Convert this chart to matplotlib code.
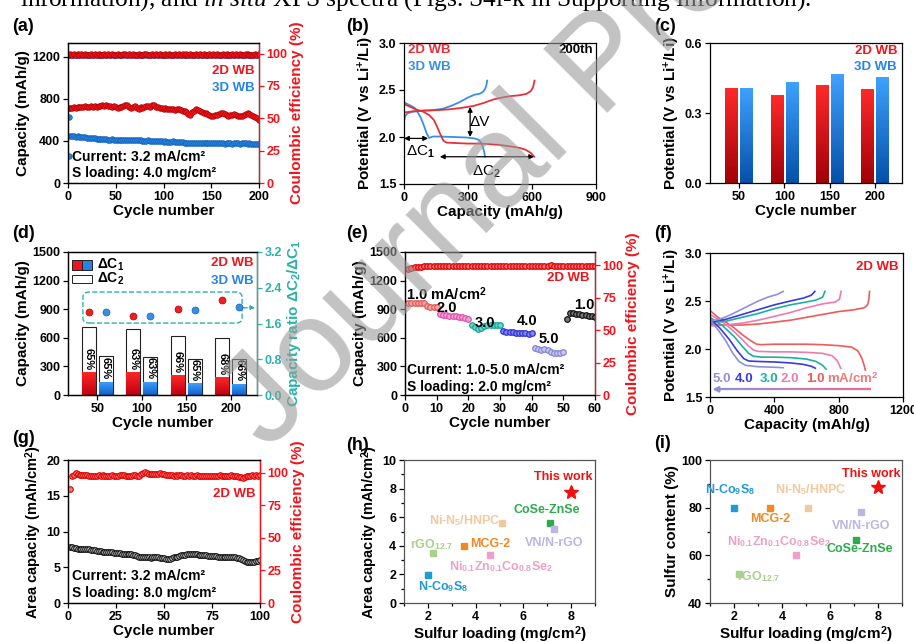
import numpy as np
import matplotlib
matplotlib.use("Agg")
import matplotlib.pyplot as plt
from matplotlib.patches import Rectangle, FancyBboxPatch
from matplotlib.colors import LinearSegmentedColormap
from matplotlib.collections import LineCollection
from matplotlib.ticker import AutoMinorLocator

plt.rcParams.update({
    "font.family": ["Liberation Sans", "DejaVu Sans"],
    "font.weight": "bold",
    "axes.labelweight": "bold",
    "font.size": 9,
    "axes.linewidth": 0.9,
    "mathtext.fontset": "custom",
    "mathtext.rm": "Liberation Sans:bold",
    "mathtext.bf": "Liberation Sans:bold",
    "mathtext.it": "Liberation Serif:style=italic:weight=normal",
})

RED = "#F0141C"
BLUE = "#2784E6"
TEAL = "#2BB3A6"

# ---------------- (a) cycling 3.2 mA/cm2, 4.0 mg/cm2 ----------------
a_cycles = list(range(2, 201, 2))
a_cap_2d = [712, 718, 722, 716, 725, 720, 728, 724, 730, 726,
            722, 730, 726, 734, 728, 736, 732, 738, 735, 742,
            736, 730, 726, 732, 722, 718, 728, 724, 736, 742,
            738, 725, 712, 720, 730, 716, 708, 722, 718, 726,
            730, 734, 722, 738, 740, 728, 720, 716, 712, 708,
            712, 706, 700, 708, 702, 698, 704, 700, 694, 690,
            686, 680, 660, 648, 672, 690, 700, 696, 688, 676,
            670, 662, 654, 648, 640, 636, 644, 652, 660, 668,
            662, 654, 648, 640, 646, 652, 658, 648, 640, 634,
            642, 650, 658, 662, 654, 646, 640, 632, 618, 602]
a_cap_3d = [448, 446, 444, 442, 445, 440, 438, 436, 435, 432,
            430, 428, 426, 424, 420, 418, 416, 418, 420, 416,
            414, 412, 415, 412, 410, 408, 412, 414, 410, 408,
            410, 412, 410, 408, 406, 408, 410, 406, 404, 402,
            404, 406, 402, 400, 402, 404, 400, 398, 396, 394,
            396, 394, 392, 394, 396, 392, 390, 388, 390, 386,
            384, 382, 380, 384, 382, 380, 378, 382, 384, 380,
            378, 380, 382, 384, 382, 380, 378, 380, 382, 380,
            378, 376, 378, 380, 378, 376, 378, 380, 378, 376,
            378, 380, 378, 376, 378, 376, 374, 376, 372, 370]
a_ce_2d = [99.4, 99.1, 99.5, 99.2, 99.6, 99.0, 99.4, 99.3, 99.5, 99.1,
           99.3, 99.5, 99.2, 99.4, 99.0, 99.6, 99.3, 99.1, 99.5, 99.2,
           99.4, 99.3, 99.6, 99.1, 99.2, 99.5, 99.3, 99.0, 99.4, 99.6,
           99.2, 99.4, 99.1, 99.5, 99.3, 99.2, 99.6, 99.0, 99.3, 99.4,
           99.5, 99.1, 99.3, 99.6, 99.2, 99.4, 99.0, 99.5, 99.3, 99.1,
           99.4, 99.2, 99.5, 99.3, 99.0, 99.6, 99.2, 99.4, 99.1, 99.5,
           99.3, 99.4, 99.0, 99.6, 99.2, 99.3, 99.5, 99.1, 99.4, 99.2,
           99.6, 99.0, 99.3, 99.5, 99.2, 99.4, 99.1, 99.6, 99.3, 99.0,
           99.4, 99.2, 99.5, 99.3, 99.1, 99.6, 99.2, 99.4, 99.0, 99.5,
           99.3, 99.1, 99.4, 99.6, 99.2, 99.3, 99.0, 99.5, 99.2, 99.4]
a_ce_3d = [98.9, 99.0, 98.8, 99.1, 98.9, 98.7, 99.0, 98.8, 99.1, 98.9,
           98.8, 99.0, 98.9, 98.7, 99.1, 98.8, 99.0, 98.9, 98.8, 99.1,
           98.9, 98.7, 99.0, 98.8, 99.1, 98.9, 98.8, 99.0, 98.7, 98.9,
           99.1, 98.8, 99.0, 98.9, 98.7, 99.0, 98.8, 99.1, 98.9, 98.8,
           99.0, 98.9, 98.7, 99.1, 98.8, 99.0, 98.9, 98.8, 99.1, 98.9,
           98.7, 99.0, 98.8, 99.1, 98.9, 98.8, 99.0, 98.7, 98.9, 99.1,
           98.8, 99.0, 98.9, 98.7, 99.0, 98.8, 99.1, 98.9, 98.8, 99.0,
           98.9, 98.7, 99.1, 98.8, 99.0, 98.9, 98.8, 99.1, 98.9, 98.7,
           99.0, 98.8, 99.1, 98.9, 98.8, 99.0, 98.7, 98.9, 99.1, 98.8,
           99.0, 98.9, 98.7, 99.0, 98.8, 99.1, 98.9, 98.8, 99.0, 98.9]
a_first_cycle = 1
a_first_cap_3d = 630
a_first_ce_3d = 20.5
a_first_cap_2d = 712
a_first_ce_2d = 99.0

# ---------------- (b) voltage profiles at 200th cycle ----------------
b_2d_dis_x = [0, 30, 60, 90, 120, 140, 155, 170, 185, 200, 250, 300, 350, 400, 450, 500, 540, 570, 595, 610]
b_2d_dis_y = [2.35, 2.32, 2.29, 2.27, 2.23, 2.18, 2.11, 2.03, 1.96, 1.94, 1.935, 1.93, 1.93, 1.925, 1.915, 1.90, 1.885, 1.865, 1.83, 1.79]
b_2d_chg_x = [0, 30, 90, 150, 215, 270, 325, 370, 420, 460, 500, 545, 575, 595, 605, 612]
b_2d_chg_y = [2.26, 2.27, 2.28, 2.285, 2.295, 2.31, 2.33, 2.36, 2.40, 2.42, 2.435, 2.445, 2.46, 2.49, 2.53, 2.60]
b_3d_dis_x = [0, 25, 50, 65, 80, 95, 108, 118, 135, 170, 230, 290, 330, 350, 362, 370, 376, 380]
b_3d_dis_y = [2.37, 2.34, 2.31, 2.26, 2.20, 2.11, 2.03, 1.99, 2.005, 2.005, 2.0, 1.995, 1.985, 1.97, 1.94, 1.89, 1.84, 1.79]
b_3d_chg_x = [0, 5, 15, 40, 80, 130, 180, 220, 260, 300, 330, 355, 370, 380, 386, 390]
b_3d_chg_y = [2.17, 2.22, 2.25, 2.27, 2.28, 2.285, 2.30, 2.33, 2.37, 2.42, 2.45, 2.46, 2.48, 2.51, 2.55, 2.60]
b_dV = (310, 2.00, 2.32)          # x, y_low, y_high
b_dC1 = (0, 113, 1.985)           # x0, x1, y
b_dC2 = (168, 610, 1.79)          # x0, x1, y

# ---------------- (c) polarization ----------------
c_cycles = ["50", "100", "150", "200"]
c_2d = [0.408, 0.377, 0.422, 0.405]
c_3d = [0.408, 0.432, 0.469, 0.455]

# ---------------- (d) dC1 / dC2 ----------------
d_cycles = ["50", "100", "150", "200"]
d_c2_2d = [718, 694, 620, 596]
d_c2_3d = [414, 403, 382, 375]
d_c1_2d = [245, 245, 207, 186]
d_c1_3d = [140, 140, 123, 119]
d_pct_2d = ["65%", "63%", "66%", "68%"]
d_pct_3d = ["65%", "63%", "65%", "66%"]
d_ratio_2d = [1.85, 1.76, 1.92, 2.12]
d_ratio_3d = [1.85, 1.76, 1.91, 1.97]

# ---------------- (e) rate performance ----------------
e_cycles = list(range(1, 61))
e_cap = [960, 965, 968, 970, 968, 960, 930, 925, 925, 925,
         850, 840, 835, 830, 830, 825, 820, 815, 810, 800,
         730, 710, 695, 700, 720, 730, 735, 738, 738, 738,
         670, 665, 660, 658, 655, 652, 650, 648, 645, 648,
         490, 480, 475, 485, 470, 455, 445, 440, 445, 448,
         795, 858, 855, 850, 845, 840, 835, 830, 825, 820]
e_rates = ["1.0", "2.0", "3.0", "4.0", "5.0", "1.0"]
e_ce = [97.2, 98.0, 98.5, 98.8, 99.0, 99.3, 99.8, 99.5, 99.6, 99.5,
        99.6, 99.5, 99.6, 99.7, 99.5, 99.6, 99.5, 99.6, 99.5, 99.4,
        99.5, 99.4, 99.5, 99.6, 99.5, 99.4, 99.5, 99.6, 99.5, 99.4,
        99.4, 99.5, 99.6, 99.5, 99.6, 99.5, 99.4, 99.5, 99.6, 99.5,
        99.6, 99.5, 99.7, 99.6, 99.5, 100.0, 99.6, 99.3, 99.5, 99.4,
        99.2, 99.4, 99.5, 99.4, 99.5, 99.4, 99.5, 99.4, 99.5, 99.4]

# ---------------- (f) voltage profiles at different currents ----------------
f_labels = ["1.0", "2.0", "3.0", "4.0", "5.0"]
f_dis_x = [
    [0, 50, 100, 150, 200, 250, 290, 320, 400, 500, 600, 700, 800, 880, 920, 945, 960, 966],
    [0, 80, 150, 200, 240, 270, 300, 400, 500, 600, 700, 760, 790, 805, 812],
    [0, 80, 150, 200, 240, 270, 320, 400, 500, 600, 660, 700, 722],
    [0, 60, 120, 170, 210, 240, 300, 400, 500, 580, 630, 655],
    [0, 50, 100, 140, 180, 220, 300, 400, 455],
]
f_dis_y = [
    [2.40, 2.33, 2.28, 2.22, 2.15, 2.09, 2.05, 2.045, 2.05, 2.05, 2.05, 2.045, 2.035, 2.02, 1.98, 1.90, 1.82, 1.78],
    [2.36, 2.28, 2.18, 2.10, 2.03, 1.99, 1.975, 1.97, 1.97, 1.965, 1.955, 1.93, 1.88, 1.83, 1.80],
    [2.33, 2.24, 2.13, 2.03, 1.955, 1.925, 1.915, 1.915, 1.91, 1.895, 1.87, 1.83, 1.79],
    [2.31, 2.22, 2.10, 1.98, 1.90, 1.875, 1.87, 1.865, 1.855, 1.84, 1.82, 1.80],
    [2.30, 2.20, 2.08, 1.96, 1.87, 1.83, 1.815, 1.81, 1.805],
]
f_chg_x = [
    [0, 100, 200, 300, 400, 500, 600, 700, 800, 900, 960, 980, 988, 992],
    [0, 100, 200, 300, 400, 500, 600, 700, 780, 805, 815],
    [0, 100, 200, 300, 400, 500, 600, 660, 700, 715],
    [0, 100, 200, 300, 400, 500, 580, 630, 652],
    [0, 60, 120, 180, 240, 300, 360, 420, 455],
]
f_chg_y = [
    [2.26, 2.25, 2.25, 2.26, 2.28, 2.30, 2.33, 2.36, 2.39, 2.41, 2.43, 2.46, 2.52, 2.60],
    [2.24, 2.25, 2.27, 2.30, 2.34, 2.38, 2.43, 2.47, 2.49, 2.52, 2.60],
    [2.27, 2.29, 2.33, 2.37, 2.42, 2.46, 2.49, 2.51, 2.54, 2.60],
    [2.28, 2.31, 2.36, 2.41, 2.46, 2.50, 2.53, 2.56, 2.60],
    [2.29, 2.31, 2.35, 2.40, 2.45, 2.50, 2.54, 2.57, 2.60],
]

# ---------------- (g) high loading cycling ----------------
g_cycles = list(range(1, 101))
g_cap = [7.9, 7.8, 7.7, 7.7, 7.6, 7.6, 7.6, 7.5, 7.5, 7.5,
         7.5, 7.4, 7.4, 7.4, 7.3, 7.3, 7.3, 7.2, 7.2, 7.2,
         7.1, 7.1, 7.1, 7.0, 7.0, 7.0, 7.0, 6.9, 6.9, 6.9,
         6.9, 6.8, 6.8, 6.7, 6.7, 6.6, 6.5, 6.5, 6.4, 6.4,
         6.4, 6.4, 6.3, 6.4, 6.4, 6.4, 6.4, 6.3, 6.3, 6.3,
         6.2, 6.2, 6.2, 6.3, 6.4, 6.5, 6.5, 6.6, 6.7, 6.7,
         6.7, 6.8, 6.8, 6.8, 6.8, 6.8, 6.8, 6.7, 6.7, 6.7,
         6.7, 6.7, 6.6, 6.6, 6.6, 6.6, 6.6, 6.5, 6.5, 6.5,
         6.5, 6.5, 6.5, 6.4, 6.4, 6.4, 6.4, 6.3, 6.3, 6.2,
         6.0, 5.9, 5.8, 5.8, 5.8, 5.8, 5.8, 5.9, 5.9, 6.0]
g_ce = [87.5, 97.8, 98.5, 99.6, 98.9, 98.4, 98.2, 98.0, 98.3, 97.9,
        97.6, 97.8, 97.5, 97.7, 97.6, 97.9, 97.8, 98.0, 97.7, 97.6,
        97.8, 97.6, 97.9, 97.7, 97.6, 97.8, 98.0, 97.9, 98.1, 97.7,
        97.5, 97.8, 97.6, 97.9, 98.0, 97.7, 97.3, 98.8, 99.9, 100.4,
        99.6, 98.6, 99.0, 99.2, 98.8, 99.1, 98.7, 99.4, 98.9, 98.6,
        98.3, 98.0, 97.9, 98.2, 97.8, 98.0, 97.7, 97.9, 98.1, 97.8,
        97.6, 97.9, 97.7, 98.0, 97.8, 97.6, 97.9, 97.7, 97.8, 97.6,
        97.5, 97.7, 97.6, 97.8, 97.7, 97.5, 97.8, 97.6, 97.9, 97.7,
        97.6, 97.8, 97.5, 97.7, 97.9, 97.6, 97.8, 97.4, 97.0, 96.5,
        96.0, 96.4, 97.2, 97.6, 97.8, 97.9, 97.7, 98.0, 97.8, 97.9]

# ---------------- (h), (i) comparison ----------------
cmp_names = ["N-Co$_9$S$_8$", "rGO$_{12.7}$", "MCG-2", "Ni$_{0.1}$Zn$_{0.1}$Co$_{0.8}$Se$_2$",
             "Ni-N$_5$/HNPC", "CoSe-ZnSe", "VN/N-rGO", "This work"]
cmp_colors = ["#1E9BD7", "#A9D18E", "#F08A24", "#EFA0C8", "#F2C8A0", "#2EAA4C", "#BDB5E2", "#F01010"]
cmp_loading = [2.0, 2.2, 3.5, 4.6, 5.1, 7.1, 7.3, 8.0]
cmp_area_cap = [1.94, 3.53, 4.0, 3.39, 5.6, 5.6, 5.14, 7.78]
cmp_s_content = [80, 52, 80, 60, 80, 66.4, 78, 88.8]
h_label_xy = [(2.63, 1.12), (2.14, 4.11), (4.59, 4.11), (5.08, 2.57),
              (3.54, 5.75), (6.99, 6.5), (7.31, 4.2), (7.66, 8.83)]
i_label_xy = [(1.83, 87.7), (3.04, 51.2), (3.51, 75.2), (3.89, 65.6),
              (5.19, 87.7), (7.24, 62.8), (7.31, 72.3), (7.7, 94.1)]

# =====================================================================
W, H = 914, 642
fig = plt.figure(figsize=(W / 100, H / 100), dpi=100)


def px_axes(l, r, t, b):
    return fig.add_axes([l / W, 1 - b / H, (r - l) / W, (b - t) / H])


def style(ax):
    ax.tick_params(axis="both", which="both", direction="out", width=0.9, labelsize=9, pad=2)
    ax.tick_params(which="major", length=3.5)
    ax.tick_params(which="minor", length=2)
    for s in ax.spines.values():
        s.set_linewidth(0.9)


def right_style(ax2, color):
    ax2.tick_params(axis="y", direction="out", width=0.9, length=3.5, labelsize=9, colors=color, pad=2)
    ax2.spines["right"].set_color(color)
    ax2.spines["right"].set_linewidth(0.9)


def grad_bars(ax, bars, c_bottom, c_top):
    cmap = LinearSegmentedColormap.from_list("g", [c_bottom, c_top])
    grad = np.linspace(0, 1, 256).reshape(-1, 1)
    for b in bars:
        x, y = b.get_x(), b.get_y()
        w, h = b.get_width(), b.get_height()
        b.set_facecolor("none")
        b.set_edgecolor("none")
        im = ax.imshow(grad, extent=[x, x + w, y, y + h], origin="lower",
                       aspect="auto", cmap=cmap, zorder=2)
        im.set_clip_path(b)


def panel_label(txt, x, y):
    fig.text(x / W, 1 - y / H, txt, fontsize=13, fontweight="bold", va="top", ha="left")


LBL = 11

# ---------------- (a) ----------------
ax = px_axes(68, 259, 43, 183)
style(ax)
ax.plot([a_first_cycle], [a_first_cap_3d], "o", ms=4, mfc=BLUE, mec="#1060B0", mew=0.5)
ax.plot(a_cycles, a_cap_3d, "o", ms=4, mfc=BLUE, mec="#1060B0", mew=0.5)
ax.plot([a_first_cycle], [a_first_cap_2d], "o", ms=4, mfc=RED, mec="#B00000", mew=0.5)
ax.plot(a_cycles, a_cap_2d, "o", ms=4, mfc=RED, mec="#B00000", mew=0.5)
ax.set_xlim(0, 200)
ax.set_ylim(0, 1333)
ax.set_xticks([0, 50, 100, 150, 200])
ax.set_yticks([0, 400, 800, 1200])
ax.set_xlabel("Cycle number", fontsize=LBL, labelpad=1)
ax.set_ylabel("Capacity (mAh/g)", fontsize=LBL, labelpad=2)
ax2 = ax.twinx()
right_style(ax2, RED)
ax2.plot([a_first_cycle], [a_first_ce_3d], "o", ms=4, mfc=BLUE, mec="#1060B0", mew=0.5)
ax2.plot(a_cycles, a_ce_3d, "o", ms=4, mfc=BLUE, mec="#1060B0", mew=0.5)
ax2.plot([a_first_cycle], [a_first_ce_2d], "o", ms=4, mfc=RED, mec="#B00000", mew=0.5)
ax2.plot(a_cycles, a_ce_2d, "o", ms=4, mfc=RED, mec="#B00000", mew=0.5)
ax2.set_ylim(0, 108.2)
ax2.set_yticks([0, 25, 50, 75, 100])
ax2.set_ylabel("Coulombic efficiency (%)", fontsize=LBL, color=RED, labelpad=2)
ax.text(0.979, 0.80, "2D WB", color=RED, transform=ax.transAxes, ha="right", va="center", fontsize=9.5)
ax.text(0.979, 0.68, "3D WB", color=BLUE, transform=ax.transAxes, ha="right", va="center", fontsize=9.5)
ax.text(0.02, 0.186, "Current: 3.2 mA/cm²", transform=ax.transAxes, ha="left", va="center", fontsize=10)
ax.text(0.02, 0.073, "S loading: 4.0 mg/cm²", transform=ax.transAxes, ha="left", va="center", fontsize=10)
panel_label("(a)", 12, 18)

# ---------------- (b) ----------------
ax = px_axes(404, 596, 43, 184)
style(ax)
ax.plot(b_3d_dis_x, b_3d_dis_y, color="#3A8EE8", lw=1.3)
ax.plot(b_3d_chg_x, b_3d_chg_y, color="#3A8EE8", lw=1.3)
ax.plot(b_2d_dis_x, b_2d_dis_y, color="#E8303A", lw=1.3)
ax.plot(b_2d_chg_x, b_2d_chg_y, color="#E8303A", lw=1.3)
ax.set_xlim(0, 900)
ax.set_ylim(1.5, 3.0)
ax.set_xticks([0, 300, 600, 900])
ax.set_yticks([1.5, 2.0, 2.5, 3.0])
ax.set_xlabel("Capacity (mAh/g)", fontsize=LBL, labelpad=1)
ax.set_ylabel("Potential (V vs Li$^{+}$/Li)", fontsize=LBL, labelpad=2)
arr = dict(arrowstyle="<|-|>", color="k", lw=0.9, shrinkA=0, shrinkB=0, mutation_scale=7)
ax.annotate("", xy=(b_dV[0], b_dV[1]), xytext=(b_dV[0], b_dV[2]), arrowprops=arr)
ax.annotate("", xy=(b_dC1[0], b_dC1[2]), xytext=(b_dC1[1], b_dC1[2]), arrowprops=arr)
ax.annotate("", xy=(b_dC2[0], b_dC2[2]), xytext=(b_dC2[1], b_dC2[2]), arrowprops=arr)
ax.text(356, 2.16, "ΔV", fontsize=11, fontweight="normal", ha="center", va="center")
ax.text(78, 1.843, "ΔC$_1$", fontsize=11, fontweight="normal", ha="center", va="center")
ax.text(387, 1.63, "ΔC$_2$", fontsize=11, fontweight="normal", ha="center", va="center")
ax.text(0.02, 0.95, "2D WB", color="#E8303A", transform=ax.transAxes, ha="left", va="center", fontsize=9.5)
ax.text(0.02, 0.83, "3D WB", color="#3A8EE8", transform=ax.transAxes, ha="left", va="center", fontsize=9.5)
ax.text(0.985, 0.95, "200th", transform=ax.transAxes, ha="right", va="center", fontsize=9.5)
panel_label("(b)", 346, 18)

# ---------------- (c) ----------------
ax = px_axes(710, 902, 43, 183)
style(ax)
xc = np.arange(1, len(c_cycles) + 1)
bw = 0.28
b1 = ax.bar(xc - 0.167, c_2d, bw, color=RED)
b2 = ax.bar(xc + 0.167, c_3d, bw, color=BLUE)
grad_bars(ax, b1, "#A00008", "#FF2A2A")
grad_bars(ax, b2, "#0450A8", "#3FA2FF")
ax.set_xlim(0.36, 4.59)
ax.set_ylim(0, 0.6)
ax.set_xticks(xc)
ax.set_xticklabels(c_cycles)
ax.set_yticks([0.0, 0.3, 0.6])
ax.set_xlabel("Cycle number", fontsize=LBL, labelpad=1)
ax.set_ylabel("Potential (V vs Li$^{+}$/Li)", fontsize=LBL, labelpad=2)
ax.text(0.974, 0.94, "2D WB", color=RED, transform=ax.transAxes, ha="right", va="center", fontsize=9.5)
ax.text(0.974, 0.83, "3D WB", color=BLUE, transform=ax.transAxes, ha="right", va="center", fontsize=9.5)
panel_label("(c)", 654, 18)

# ---------------- (d) ----------------
ax = px_axes(68, 257, 252, 395)
style(ax)
xd = np.arange(1, len(d_cycles) + 1)
bw = 0.31
off = 0.19
ax.bar(xd - off, d_c2_2d, bw, facecolor="white", edgecolor="#222222", lw=0.8, zorder=1)
ax.bar(xd + off, d_c2_3d, bw, facecolor="white", edgecolor="#222222", lw=0.8, zorder=1)
bb1 = ax.bar(xd - off, d_c1_2d, bw, color=RED)
bb2 = ax.bar(xd + off, d_c1_3d, bw, color=BLUE)
grad_bars(ax, bb1, "#C00010", "#FF2828")
grad_bars(ax, bb2, "#1060C8", "#3FA2FF")
for i in range(len(d_cycles)):
    ax.text(xd[i] - off, d_c1_2d[i] + 135, d_pct_2d[i], rotation=270, ha="center", va="center", fontsize=8, zorder=3)
    ax.text(xd[i] + off, d_c1_3d[i] + 140, d_pct_3d[i], rotation=270, ha="center", va="center", fontsize=8, zorder=3)
ax.set_xlim(0.34, 4.59)
ax.set_ylim(0, 1500)
ax.set_xticks(xd)
ax.set_xticklabels(d_cycles)
ax.set_yticks([0, 300, 600, 900, 1200, 1500])
ax.set_xlabel("Cycle number", fontsize=LBL, labelpad=1)
ax.set_ylabel("Capacity (mAh/g)", fontsize=LBL, labelpad=2)
ax2 = ax.twinx()
right_style(ax2, TEAL)
ax2.plot(xd - off, d_ratio_2d, "o", ms=5, mfc="#F02020", mec="#B00000", mew=0.5)
ax2.plot(xd + off, d_ratio_3d, "o", ms=5, mfc="#3A8EE8", mec="#1060B0", mew=0.5)
ax2.set_ylim(0, 3.2)
ax2.set_yticks([0.0, 0.8, 1.6, 2.4, 3.2])
ax2.set_ylabel("Capacity ratio ΔC$_2$/ΔC$_1$", fontsize=LBL, color=TEAL, labelpad=2)
box = FancyBboxPatch((0.079, 0.503), 0.842, 0.217, boxstyle="round,pad=0,rounding_size=0.035",
                     transform=ax.transAxes, fill=False, ec=TEAL, ls="--", lw=1.0, zorder=4)
ax.add_patch(box)
ax.annotate("", xy=(0.99, 0.61), xytext=(0.921, 0.61), xycoords="axes fraction",
            arrowprops=dict(arrowstyle="-|>", ls="--", color=TEAL, lw=1.0, mutation_scale=6, shrinkA=0, shrinkB=0))
ax.add_patch(Rectangle((0.021, 0.874), 0.053, 0.07, transform=ax.transAxes, fc=RED, ec="#222222", lw=0.7, zorder=5))
ax.add_patch(Rectangle((0.074, 0.874), 0.053, 0.07, transform=ax.transAxes, fc=BLUE, ec="#222222", lw=0.7, zorder=5))
ax.add_patch(Rectangle((0.021, 0.781), 0.106, 0.058, transform=ax.transAxes, fc="white", ec="#222222", lw=0.7, zorder=5))
ax.text(0.153, 0.909, "ΔC$_1$", transform=ax.transAxes, ha="left", va="center", fontsize=10)
ax.text(0.153, 0.81, "ΔC$_2$", transform=ax.transAxes, ha="left", va="center", fontsize=10)
ax.text(0.98, 0.92, "2D WB", color=RED, transform=ax.transAxes, ha="right", va="center", fontsize=9.5)
ax.text(0.98, 0.80, "3D WB", color=BLUE, transform=ax.transAxes, ha="right", va="center", fontsize=9.5)
panel_label("(d)", 12, 225)

# ---------------- (e) ----------------
ax = px_axes(405, 595, 252, 395)
style(ax)
e_mec = ["#E05A5A", "#E050B0", "#10A898", "#3030D8", "#8585D5", "#111111"]
e_mfc = ["#F5A5A5", "#F4A8DA", "#6ED4C6", "#8585F2", "#C8C8F2", "#777777"]
for k in range(6):
    sl = slice(10 * k, 10 * k + 10)
    ax.plot(e_cycles[sl], e_cap[sl], "o", ms=4, mfc=e_mfc[k], mec=e_mec[k], mew=0.9)
ax.set_xlim(0, 60)
ax.set_ylim(0, 1500)
ax.set_xticks(range(0, 61, 10))
ax.set_yticks([0, 300, 600, 900, 1200, 1500])
ax.set_xlabel("Cycle number", fontsize=LBL, labelpad=1)
ax.set_ylabel("Capacity (mAh/g)", fontsize=LBL, labelpad=2)
ax2 = ax.twinx()
right_style(ax2, RED)
ax2.plot(e_cycles, e_ce, "o", ms=4, mfc="#FF7070", mec="#E00000", mew=0.9)
ax2.set_ylim(0, 110.3)
ax2.set_yticks([0, 25, 50, 75, 100])
ax2.set_ylabel("Coulombic efficiency (%)", fontsize=LBL, color=RED, labelpad=2)
ax.text(0.3, 1058, e_rates[0] + " mA/cm$^2$", ha="left", va="center", fontsize=10.5)
ax.text(13.2, 911, e_rates[1], ha="center", va="center", fontsize=10.5)
ax.text(25.3, 753, e_rates[2], ha="center", va="center", fontsize=10.5)
ax.text(38.4, 771, e_rates[3], ha="center", va="center", fontsize=10.5)
ax.text(45.3, 589, e_rates[4], ha="center", va="center", fontsize=10.5)
ax.text(56.5, 946, e_rates[5], ha="center", va="center", fontsize=10.5)
ax.text(0.97, 0.82, "2D WB", color=RED, transform=ax.transAxes, ha="right", va="center", fontsize=9.5)
ax.text(0.01, 0.175, "Current: 1.0-5.0 mA/cm²", transform=ax.transAxes, ha="left", va="center", fontsize=10)
ax.text(0.01, 0.058, "S loading: 2.0 mg/cm²", transform=ax.transAxes, ha="left", va="center", fontsize=10)
panel_label("(e)", 346, 225)

# ---------------- (f) ----------------
ax = px_axes(710, 903, 253, 397)
style(ax)
f_colors = ["#F05A5A", "#EE7BB0", "#1BB0A0", "#3A3AE0", "#9090D8"]
for k in range(5):
    ax.plot(f_dis_x[k], f_dis_y[k], color=f_colors[k], lw=1.2)
    ax.plot(f_chg_x[k], f_chg_y[k], color=f_colors[k], lw=1.2)
ax.set_xlim(0, 1200)
ax.set_ylim(1.5, 3.0)
ax.set_xticks([0, 400, 800, 1200])
ax.set_yticks([1.5, 2.0, 2.5, 3.0])
ax.set_xlabel("Capacity (mAh/g)", fontsize=LBL, labelpad=1)
ax.set_ylabel("Potential (V vs Li$^{+}$/Li)", fontsize=LBL, labelpad=2)
f_lab_x = [653, 495, 368, 210, 74]
for k in range(5):
    ax.text(f_lab_x[k], 1.685, f_labels[k], color=f_colors[k], ha="center", va="center", fontsize=9.5)
ax.text(884, 1.685, "mA/cm$^2$", color="#F07878", ha="center", va="center", fontsize=9.5)
xs = np.linspace(1000, 60, 60)
pts = np.array([[x, 1.58] for x in xs])
segs = np.stack([pts[:-1], pts[1:]], axis=1)
gcmap = LinearSegmentedColormap.from_list("ar", ["#F06A8A", "#9090D8"])
lc = LineCollection(segs, colors=gcmap(np.linspace(0, 1, len(segs))), lw=1.6)
ax.add_collection(lc)
ax.annotate("", xy=(15, 1.58), xytext=(62, 1.58),
            arrowprops=dict(arrowstyle="-|>", color="#9090D8", lw=1.6, mutation_scale=8, shrinkA=0, shrinkB=0))
ax.text(0.975, 0.90, "2D WB", color=RED, transform=ax.transAxes, ha="right", va="center", fontsize=9.5)
panel_label("(f)", 654, 225)

# ---------------- (g) ----------------
ax = px_axes(68, 260, 460, 603)
style(ax)
ax.plot(g_cycles, g_cap, "o", ms=4, mfc="#D0D0D0", mec="#111111", mew=0.8)
ax.set_xlim(0, 100)
ax.set_ylim(0, 20)
ax.set_xticks([0, 25, 50, 75, 100])
ax.set_yticks([0, 5, 10, 15, 20])
ax.set_xlabel("Cycle number", fontsize=LBL, labelpad=1)
ax.set_ylabel("Area capacity (mAh/cm$^2$)", fontsize=10.5, labelpad=2)
ax2 = ax.twinx()
right_style(ax2, RED)
ax2.plot(g_cycles, g_ce, "o", ms=4, mfc="#FF7A7A", mec="#E00000", mew=0.8)
ax2.set_ylim(0, 109.7)
ax2.set_yticks([0, 25, 50, 75, 100])
ax2.set_ylabel("Coulombic efficiency (%)", fontsize=LBL, color=RED, labelpad=2)
ax.text(0.974, 0.762, "2D WB", color=RED, transform=ax.transAxes, ha="right", va="center", fontsize=9.5)
ax.text(0.02, 0.189, "Current: 3.2 mA/cm²", transform=ax.transAxes, ha="left", va="center", fontsize=10)
ax.text(0.02, 0.072, "S loading: 8.0 mg/cm²", transform=ax.transAxes, ha="left", va="center", fontsize=10)
panel_label("(g)", 12, 430)

# ---------------- (h) ----------------
ax = px_axes(404, 595, 460, 603)
style(ax)
for k in range(len(cmp_names)):
    if k == len(cmp_names) - 1:
        ax.plot(cmp_loading[k], cmp_area_cap[k], "*", ms=10, color=cmp_colors[k], mec=cmp_colors[k])
    else:
        ax.plot(cmp_loading[k], cmp_area_cap[k], "s", ms=4.5, color=cmp_colors[k], mec=cmp_colors[k])
    ax.text(h_label_xy[k][0], h_label_xy[k][1], cmp_names[k], color=cmp_colors[k],
            ha="center", va="center", fontsize=9)
ax.set_xlim(1, 9)
ax.set_ylim(0, 10)
ax.set_xticks([2, 4, 6, 8])
ax.set_yticks([0, 2, 4, 6, 8, 10])
ax.xaxis.set_minor_locator(AutoMinorLocator(2))
ax.yaxis.set_minor_locator(AutoMinorLocator(2))
ax.set_xlabel("Sulfur loading (mg/cm$^2$)", fontsize=LBL, labelpad=1)
ax.set_ylabel("Area capacity (mAh/cm$^2$)", fontsize=10.5, labelpad=2)
for s in ax.spines.values():
    s.set_color("#555555")
panel_label("(h)", 346, 437)

# ---------------- (i) ----------------
ax = px_axes(710, 902, 460, 603)
style(ax)
for k in range(len(cmp_names)):
    if k == len(cmp_names) - 1:
        ax.plot(cmp_loading[k], cmp_s_content[k], "*", ms=10, color=cmp_colors[k], mec=cmp_colors[k])
    else:
        ax.plot(cmp_loading[k], cmp_s_content[k], "s", ms=4.5, color=cmp_colors[k], mec=cmp_colors[k])
    ax.text(i_label_xy[k][0], i_label_xy[k][1], cmp_names[k], color=cmp_colors[k],
            ha="center", va="center", fontsize=9)
ax.set_xlim(1, 9)
ax.set_ylim(40, 100)
ax.set_xticks([2, 4, 6, 8])
ax.set_yticks([40, 60, 80, 100])
ax.xaxis.set_minor_locator(AutoMinorLocator(2))
ax.yaxis.set_minor_locator(AutoMinorLocator(2))
ax.set_xlabel("Sulfur loading (mg/cm$^2$)", fontsize=LBL, labelpad=1)
ax.set_ylabel("Sulfur content (%)", fontsize=LBL, labelpad=2)
for s in ax.spines.values():
    s.set_color("#555555")
panel_label("(i)", 654, 435)

# ---------------- page text and watermark ----------------
fig.text(20 / W, 1 - 6 / H,
         r"information), and $\mathit{in\ situ}$ XPS spectra (Figs. S4i-k in Supporting Information).",
         family="Liberation Serif", fontweight="normal", fontsize=18.3, ha="left", va="baseline")
fig.text(268 / W, 1 - 452 / H, "Journal Pre-proof", rotation=45, rotation_mode="anchor",
         ha="left", va="baseline", fontsize=95, fontweight="normal", family="Liberation Sans",
         color="#9A9A9A", alpha=0.6, zorder=1000)

fig.savefig("out.png", dpi=100)
